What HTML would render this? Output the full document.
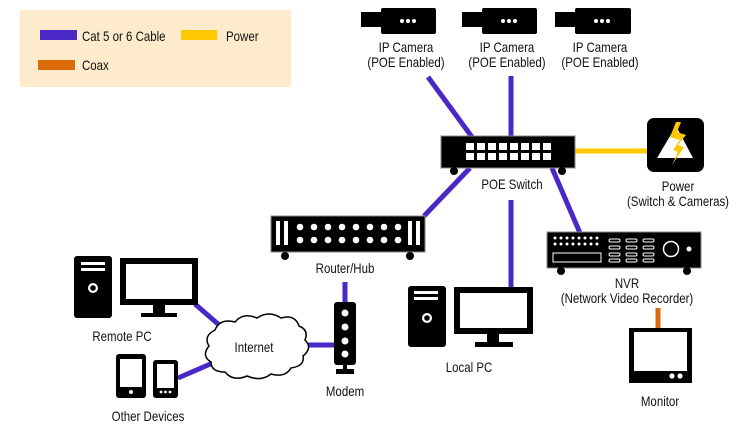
<!DOCTYPE html>
<html><head><meta charset="utf-8"><style>
html,body{margin:0;padding:0;background:#fff;width:750px;height:430px;overflow:hidden}
svg text{font-family:"Liberation Sans",sans-serif;font-size:14px;fill:#111}
</style></head><body>
<svg width="750" height="430" viewBox="0 0 750 430" xmlns="http://www.w3.org/2000/svg">
<rect x="20" y="10" width="271" height="77" fill="#fdebcb"/>
<rect x="40" y="30" width="37" height="10" fill="#4a28c6"/>
<text transform="translate(82,41) scale(.82,1)">Cat 5 or 6 Cable</text>
<rect x="181" y="30" width="36" height="10" fill="#ffc800"/>
<text transform="translate(226,41) scale(.82,1)">Power</text>
<rect x="38" y="60" width="37" height="10" fill="#dd6a08"/>
<text transform="translate(82,70) scale(.82,1)">Coax</text>

<g stroke="#4a28c6" stroke-width="5" fill="none">
<line x1="428" y1="77" x2="472" y2="137"/>
<line x1="511" y1="76" x2="511" y2="137"/>
<line x1="470" y1="168" x2="424" y2="216"/>
<line x1="552" y1="168" x2="580" y2="233"/>
<line x1="511" y1="200" x2="511" y2="288"/>
<line x1="345" y1="282" x2="345" y2="303"/>
<line x1="302" y1="345" x2="335" y2="345"/>
<line x1="195" y1="304" x2="226" y2="331"/>
<line x1="178" y1="378" x2="215" y2="362"/>
</g>
<line x1="575" y1="151" x2="648" y2="151" stroke="#ffc800" stroke-width="5"/>
<line x1="658" y1="308" x2="658" y2="329" stroke="#dd6a08" stroke-width="5"/>

<g fill="#000">
<rect x="361" y="12" width="21" height="15"/><rect x="381" y="8" width="55" height="26" rx="2"/>
<rect x="462" y="12" width="21" height="15"/><rect x="482" y="8" width="55" height="26" rx="2"/>
<rect x="555" y="12" width="21" height="15"/><rect x="575" y="8" width="56" height="26" rx="2"/>
</g>
<g fill="#fff">
<circle cx="402" cy="21" r="2"/><circle cx="408" cy="21" r="2"/><circle cx="414" cy="21" r="2"/>
<circle cx="503" cy="21" r="2"/><circle cx="509" cy="21" r="2"/><circle cx="515" cy="21" r="2"/>
<circle cx="596" cy="21" r="2"/><circle cx="602" cy="21" r="2"/><circle cx="608" cy="21" r="2"/>
</g>
<g text-anchor="middle">
<text transform="translate(406,52) scale(.82,1)">IP Camera</text><text transform="translate(406,67) scale(.82,1)">(POE Enabled)</text>
<text transform="translate(507,52) scale(.82,1)">IP Camera</text><text transform="translate(507,67) scale(.82,1)">(POE Enabled)</text>
<text transform="translate(600,52) scale(.82,1)">IP Camera</text><text transform="translate(600,67) scale(.82,1)">(POE Enabled)</text>
</g>

<rect x="441" y="136" width="134" height="32" fill="#000" stroke="#888" stroke-width="1"/>
<circle cx="454" cy="171" r="4"/><circle cx="562" cy="171" r="4"/>
<g fill="#fff">
<rect x="466" y="143" width="8" height="7"/><rect x="477" y="143" width="8" height="7"/><rect x="488" y="143" width="8" height="7"/><rect x="499" y="143" width="8" height="7"/><rect x="510" y="143" width="8" height="7"/><rect x="521" y="143" width="8" height="7"/><rect x="532" y="143" width="8" height="7"/><rect x="543" y="143" width="8" height="7"/>
<rect x="466" y="153" width="8" height="7"/><rect x="477" y="153" width="8" height="7"/><rect x="488" y="153" width="8" height="7"/><rect x="499" y="153" width="8" height="7"/><rect x="510" y="153" width="8" height="7"/><rect x="521" y="153" width="8" height="7"/><rect x="532" y="153" width="8" height="7"/><rect x="543" y="153" width="8" height="7"/>
</g>
<text transform="translate(512,189) scale(.82,1)" text-anchor="middle">POE Switch</text>

<rect x="647" y="118" width="57" height="54" rx="7" fill="#000"/>
<polygon points="676,126 657,158 693,158" fill="#fff"/>
<polygon points="676,122 670,137 680,140 673,150 678,152 672,165 684,147 678,145 686,135 677,132 681,122" fill="#ffc800"/>
<text transform="translate(678,191) scale(.82,1)" text-anchor="middle">Power</text>
<text transform="translate(678,206) scale(.82,1)" text-anchor="middle">(Switch &amp; Cameras)</text>

<rect x="271" y="216" width="154" height="36" fill="#000" stroke="#888" stroke-width="1"/>
<circle cx="285" cy="256" r="4"/><circle cx="410" cy="256" r="4"/>
<g fill="#fff">
<rect x="276" y="221" width="4" height="24"/><rect x="284" y="221" width="4" height="24"/>
<rect x="408" y="221" width="4" height="24"/><rect x="416" y="221" width="4" height="24"/>
<circle cx="300" cy="227" r="3.3"/><circle cx="314" cy="227" r="3.3"/><circle cx="328" cy="227" r="3.3"/><circle cx="342" cy="227" r="3.3"/><circle cx="356" cy="227" r="3.3"/><circle cx="370" cy="227" r="3.3"/><circle cx="384" cy="227" r="3.3"/><circle cx="398" cy="227" r="3.3"/>
<circle cx="300" cy="240" r="3.3"/><circle cx="314" cy="240" r="3.3"/><circle cx="328" cy="240" r="3.3"/><circle cx="342" cy="240" r="3.3"/><circle cx="356" cy="240" r="3.3"/><circle cx="370" cy="240" r="3.3"/><circle cx="384" cy="240" r="3.3"/><circle cx="398" cy="240" r="3.3"/>
</g>
<text transform="translate(345,273) scale(.82,1)" text-anchor="middle">Router/Hub</text>

<rect x="334" y="302" width="22" height="63" rx="3" fill="#000"/>
<rect x="343" y="364" width="4" height="6" fill="#000"/><rect x="336" y="369" width="18" height="5" fill="#000"/>
<g fill="#fff"><circle cx="345" cy="313" r="3.5"/><circle cx="345" cy="327" r="3.5"/><circle cx="345" cy="341" r="3.5"/><circle cx="345" cy="354" r="3.5"/></g>
<text transform="translate(345,396) scale(.82,1)" text-anchor="middle">Modem</text>

<path d="M215,330 q5,-12 20,-8 q8,-10 22,-4 q12,-8 24,0 q14,-4 18,8 q10,4 6,14 q8,8 -2,16 q2,10 -12,12 q-6,10 -20,6 q-10,8 -24,2 q-14,6 -22,-4 q-14,0 -14,-10 q-10,-6 -2,-16 q-6,-10 6,-16 z" fill="#fff" stroke="#000" stroke-width="1.5"/>
<text transform="translate(254,352) scale(.82,1)" text-anchor="middle">Internet</text>

<rect x="74" y="256" width="38" height="62" rx="3" fill="#000"/>
<rect x="81" y="262" width="24" height="3" fill="#fff"/><rect x="81" y="268" width="24" height="3" fill="#fff"/>
<circle cx="93" cy="288" r="5" fill="#fff"/><circle cx="93" cy="288" r="2.8" fill="#000"/>
<rect x="120" y="258" width="78" height="47" fill="#000"/><rect x="126" y="264" width="66" height="35" fill="#fff"/>
<rect x="153" y="305" width="12" height="9" fill="#000"/><rect x="141" y="313" width="36" height="4" fill="#000"/>
<text transform="translate(122,341) scale(.82,1)" text-anchor="middle">Remote PC</text>

<rect x="116" y="354" width="30" height="44" rx="3" fill="#000"/><rect x="120" y="359" width="22" height="28" fill="#fff"/><circle cx="131" cy="392" r="2" fill="#fff"/>
<rect x="153" y="360" width="25" height="38" rx="3" fill="#000"/><rect x="157" y="364" width="17" height="24" fill="#fff"/>
<g fill="#fff"><circle cx="161" cy="392" r="1.4"/><circle cx="165.5" cy="392" r="1.4"/><circle cx="170" cy="392" r="1.4"/></g>
<text transform="translate(148,421) scale(.82,1)" text-anchor="middle">Other Devices</text>

<rect x="408" y="286" width="38" height="61" rx="3" fill="#000"/>
<rect x="414" y="291" width="24" height="3" fill="#fff"/><rect x="414" y="297" width="24" height="3" fill="#fff"/>
<circle cx="427" cy="318" r="5" fill="#fff"/><circle cx="427" cy="318" r="2.8" fill="#000"/>
<rect x="454" y="287" width="79" height="47" fill="#000"/><rect x="460" y="293" width="67" height="35" fill="#fff"/>
<rect x="487" y="334" width="12" height="9" fill="#000"/><rect x="475" y="342" width="38" height="5" fill="#000"/>
<text transform="translate(469,372) scale(.82,1)" text-anchor="middle">Local PC</text>

<rect x="547" y="232" width="154" height="36" fill="#000" stroke="#888" stroke-width="1"/>
<circle cx="561" cy="271" r="4"/><circle cx="687" cy="271" r="4"/>
<g fill="#fff">
<circle cx="555" cy="238" r="1.5"/><circle cx="561" cy="238" r="1.5"/><circle cx="567" cy="238" r="1.5"/><circle cx="573" cy="238" r="1.5"/><circle cx="579" cy="238" r="1.5"/><circle cx="585" cy="238" r="1.5"/><circle cx="591" cy="238" r="1.5"/><circle cx="597" cy="238" r="1.5"/>
<circle cx="555" cy="244" r="1.5"/><circle cx="561" cy="244" r="1.5"/><circle cx="567" cy="244" r="1.5"/><circle cx="573" cy="244" r="1.5"/><circle cx="579" cy="244" r="1.5"/><circle cx="585" cy="244" r="1.5"/><circle cx="591" cy="244" r="1.5"/><circle cx="597" cy="244" r="1.5"/>
</g>
<rect x="553" y="253" width="48" height="9" fill="none" stroke="#fff" stroke-width="1"/>
<g fill="none" stroke="#fff" stroke-width="1">
<rect x="609" y="239" width="11" height="3" rx="1.5"/><rect x="609" y="246" width="11" height="3" rx="1.5"/><rect x="609" y="253" width="11" height="3" rx="1.5"/><rect x="609" y="259" width="11" height="3" rx="1.5"/>
<rect x="626" y="239" width="11" height="3" rx="1.5"/><rect x="626" y="246" width="11" height="3" rx="1.5"/><rect x="626" y="253" width="11" height="3" rx="1.5"/><rect x="626" y="259" width="11" height="3" rx="1.5"/>
<rect x="643" y="239" width="11" height="3" rx="1.5"/><rect x="643" y="246" width="11" height="3" rx="1.5"/><rect x="643" y="253" width="11" height="3" rx="1.5"/><rect x="643" y="259" width="11" height="3" rx="1.5"/>
<circle cx="671" cy="249" r="7.5" stroke-width="1.5"/>
</g>
<circle cx="689" cy="249" r="2.5" fill="#fff"/>
<text transform="translate(627,288) scale(.82,1)" text-anchor="middle">NVR</text>
<text transform="translate(627,303) scale(.82,1)" text-anchor="middle">(Network Video Recorder)</text>

<rect x="629" y="328" width="63" height="55" fill="#000"/><rect x="634" y="332" width="53" height="39" fill="#fff"/>
<circle cx="672" cy="376" r="2.6" fill="#fff"/><circle cx="680" cy="376" r="2.6" fill="#fff"/>
<text transform="translate(660,406) scale(.82,1)" text-anchor="middle">Monitor</text>
</svg>
</body></html>
